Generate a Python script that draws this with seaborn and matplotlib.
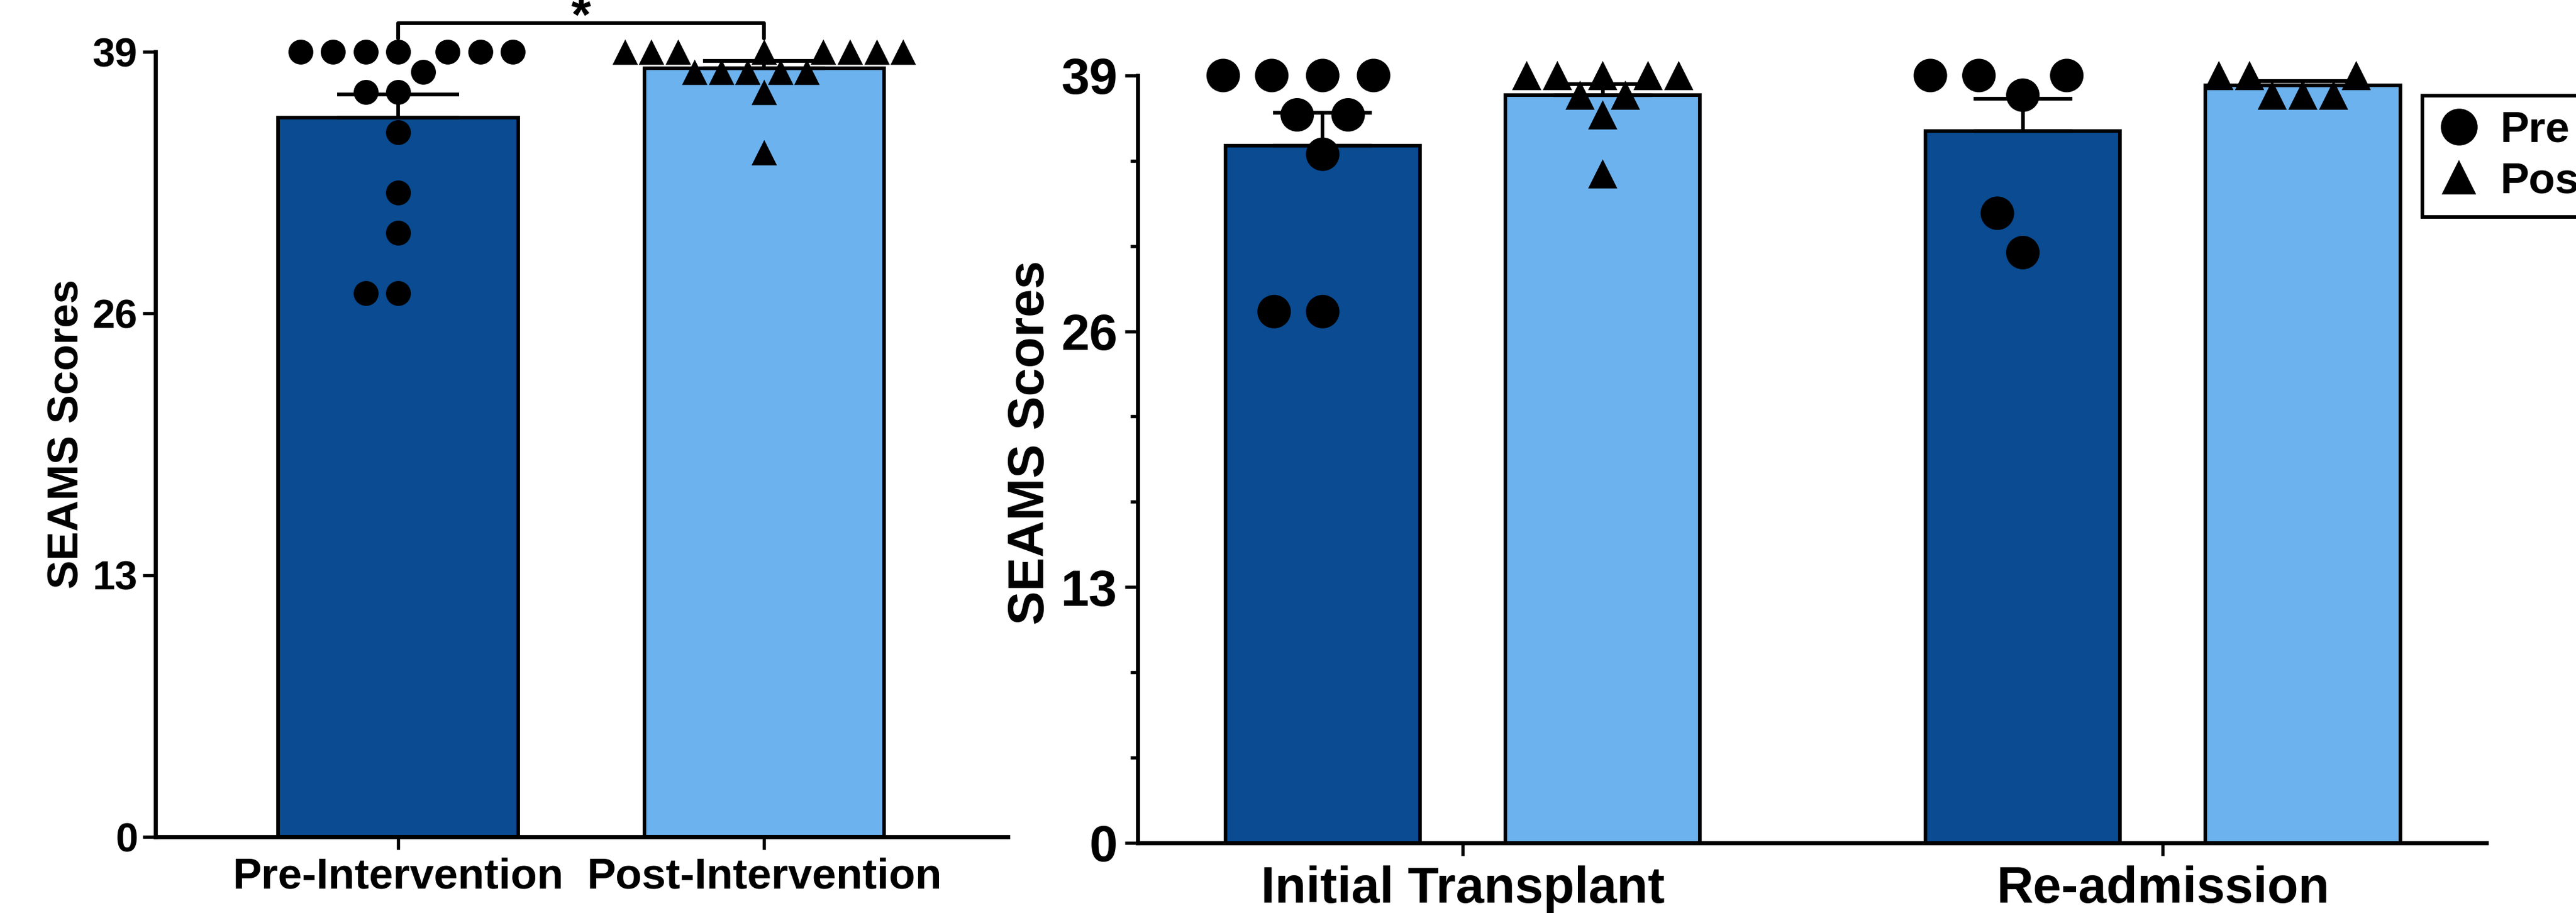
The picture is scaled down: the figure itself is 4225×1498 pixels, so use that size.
import matplotlib.pyplot as plt
import numpy as np
import pandas as pd
import seaborn as sns
from matplotlib.lines import Line2D
from matplotlib.ticker import MultipleLocator

# left panel: all patients, pre vs post intervention
overall_categories = ["Pre-Intervention", "Post-Intervention"]
overall_pre = [39, 39, 39, 39, 39, 39, 39, 38, 37, 37, 35, 32, 30, 27, 27]
overall_post = [39, 39, 39, 39, 39, 39, 39, 39, 38, 38, 38, 38, 38, 37, 34]

# right panel: split by admission type
admission_groups = ["Initial Transplant", "Re-admission"]
timepoints = ["Pre", "Post"]
transplant_pre = [39, 39, 39, 39, 37, 37, 35, 27, 27]
transplant_post = [39, 39, 39, 39, 39, 38, 38, 37, 34]
readmission_pre = [39, 39, 39, 38, 32, 30]
readmission_post = [39, 39, 39, 38, 38, 38]

y_ticks = [0, 13, 26, 39]

DARK = "#0A4B91"
LIGHT = "#6CB2EE"
CLEAR = (0, 0, 0, 0)

overall = pd.DataFrame(
    {
        "phase": [overall_categories[0]] * len(overall_pre) + [overall_categories[1]] * len(overall_post),
        "score": overall_pre + overall_post,
    }
)
split = pd.concat(
    [
        pd.DataFrame({"group": group, "time": time, "score": values})
        for group, time, values in [
            (admission_groups[0], "Pre", transplant_pre),
            (admission_groups[0], "Post", transplant_post),
            (admission_groups[1], "Pre", readmission_pre),
            (admission_groups[1], "Post", readmission_post),
        ]
    ],
    ignore_index=True,
)

sns.set_style("ticks")
plt.rcParams["font.family"] = ["Liberation Sans", "DejaVu Sans"]
plt.rcParams["font.weight"] = "bold"
plt.rcParams["axes.labelweight"] = "bold"
for key in ["axes.edgecolor", "xtick.color", "ytick.color", "text.color", "axes.labelcolor"]:
    plt.rcParams[key] = "black"

fig = plt.figure(figsize=(4225 / 300, 1498 / 300), dpi=300)
ax1 = fig.add_axes([0.0604, 0.0834, 0.3309, 0.8598])
ax2 = fig.add_axes([0.4417, 0.0768, 0.5235, 0.8405])

# ---- left panel ----
sns.barplot(
    data=overall, x="phase", y="score", hue="phase", order=overall_categories, hue_order=overall_categories,
    palette=[DARK, LIGHT], saturation=1, errorbar=None, width=0.655, edgecolor="black", linewidth=1.4,
    legend=False, ax=ax1,
)
# transparent edge widths only loosen the swarm spacing
for cat, marker, size, pad in zip(overall_categories, ["o", "^"], [9.8, 10.0], [2.4, 0.0]):
    sns.swarmplot(
        data=overall[overall["phase"] == cat], x="phase", y="score", order=overall_categories,
        color="black", marker=marker, size=size, edgecolor=CLEAR, linewidth=pad,
        clip_on=False, zorder=4, ax=ax1,
    )
stats1 = overall.groupby("phase")["score"].agg(["mean", "sem"]).reindex(overall_categories)
ax1.errorbar(
    np.arange(len(overall_categories)), stats1["mean"], yerr=[np.zeros(len(stats1)), stats1["sem"]],
    fmt="none", ecolor="black", elinewidth=1.4, capsize=24, capthick=1.5, zorder=3, clip_on=False,
)

# significance bracket
bracket_y, bracket_drop = 40.42, 0.75
ax1.plot([0, 0, 1, 1], [bracket_y - bracket_drop, bracket_y, bracket_y, bracket_y - bracket_drop],
         color="black", lw=1.5, clip_on=False)
ax1.text(0.5, 39.97, "*", ha="center", va="baseline", fontsize=20, fontweight="bold", clip_on=False)

ax1.set_xlim(-0.663, 1.667)
ax1.set_ylim(0, 39)
ax1.set_yticks(y_ticks)
ax1.set_xlabel("")
ax1.set_ylabel("SEAMS Scores", fontsize=17, fontweight="bold")
ax1.yaxis.set_label_coords(-0.080, 0.513)
ax1.tick_params(axis="both", width=1.3, length=5)
ax1.tick_params(axis="y", labelsize=16, pad=2)
ax1.tick_params(axis="x", labelsize=17, pad=3)

# ---- right panel ----
sns.barplot(
    data=split, x="group", y="score", hue="time", order=admission_groups, hue_order=timepoints,
    palette=[DARK, LIGHT], saturation=1, errorbar=None, width=0.8, gap=0.305, edgecolor="black",
    linewidth=1.4, legend=False, ax=ax2,
)
for time, marker, size, pad in zip(timepoints, ["o", "^"], [13.2, 11.5], [5.0, 0.0]):
    sns.swarmplot(
        data=split[split["time"] == time], x="group", y="score", hue="time", order=admission_groups,
        hue_order=timepoints, dodge=True, palette={t: "black" for t in timepoints}, marker=marker,
        size=size, edgecolor=CLEAR, linewidth=pad, legend=False, clip_on=False, zorder=4, ax=ax2,
    )
stats2 = split.groupby(["group", "time"])["score"].agg(["mean", "sem"]).reset_index()
dodge = {"Pre": -0.2, "Post": 0.2}
xpos = stats2["group"].map(admission_groups.index) + stats2["time"].map(dodge)
ax2.errorbar(
    xpos, stats2["mean"], yerr=[np.zeros(len(stats2)), stats2["sem"]],
    fmt="none", ecolor="black", elinewidth=1.4, capsize=19.5, capthick=1.5, zorder=3, clip_on=False,
)

ax2.set_xlim(-0.464, 1.462)
ax2.set_ylim(0, 39)
ax2.set_yticks(y_ticks)
ax2.yaxis.set_minor_locator(MultipleLocator(13 / 3))
ax2.set_xlabel("")
ax2.set_ylabel("SEAMS Scores", fontsize=20, fontweight="bold")
ax2.yaxis.set_label_coords(-0.062, 0.522)
ax2.tick_params(axis="both", width=1.3, length=5)
ax2.tick_params(axis="y", which="minor", width=1.3, length=3)
ax2.tick_params(axis="y", labelsize=20, pad=3)
ax2.tick_params(axis="x", labelsize=20, pad=4)

for ax in (ax1, ax2):
    sns.despine(ax=ax)
    for side in ("left", "bottom"):
        ax.spines[side].set_linewidth(1.6)

handles = [
    Line2D([], [], marker="o", linestyle="none", color="black", markersize=13.5),
    Line2D([], [], marker="^", linestyle="none", color="black", markersize=12),
]
leg = fig.legend(
    handles, timepoints, loc="upper left", bbox_to_anchor=(3973 / 4225, 1 - 157 / 1498),
    frameon=True, fancybox=False, edgecolor="black", framealpha=1, prop={"weight": "bold", "size": 17},
    borderpad=0.35, labelspacing=0.25, handlelength=1.0, handletextpad=0.45, borderaxespad=0,
)
leg.get_frame().set_linewidth(1.4)

fig.savefig("out.png", dpi=300)
plt.close(fig)
